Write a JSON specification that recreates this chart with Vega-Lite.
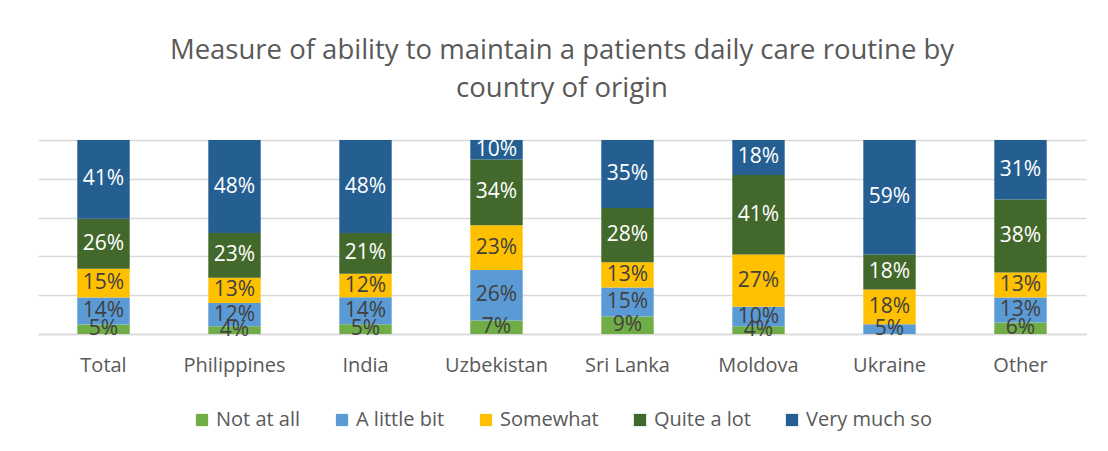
{
  "$schema": "https://vega.github.io/schema/vega-lite/v6.json",
  "width": 1048,
  "height": 194,
  "autosize": {"type": "none"},
  "padding": {"left": 38, "top": 140, "right": 22, "bottom": 117},
  "background": "white",
  "title": {
    "text": ["Measure of ability to maintain a patients daily care routine by", "country of origin"],
    "font": "Open Sans",
    "fontSize": 27.5,
    "fontWeight": "normal",
    "color": "#595959",
    "lineHeight": 38,
    "anchor": "middle",
    "offset": 36
  },
  "data": {
    "values": [
      {"country": "Total", "series": "Not at all", "rank": 1, "v": 0.05},
      {"country": "Total", "series": "A little bit", "rank": 2, "v": 0.14},
      {"country": "Total", "series": "Somewhat", "rank": 3, "v": 0.15},
      {"country": "Total", "series": "Quite a lot", "rank": 4, "v": 0.26},
      {"country": "Total", "series": "Very much so", "rank": 5, "v": 0.41},
      {"country": "Philippines", "series": "Not at all", "rank": 1, "v": 0.04},
      {"country": "Philippines", "series": "A little bit", "rank": 2, "v": 0.12},
      {"country": "Philippines", "series": "Somewhat", "rank": 3, "v": 0.13},
      {"country": "Philippines", "series": "Quite a lot", "rank": 4, "v": 0.23},
      {"country": "Philippines", "series": "Very much so", "rank": 5, "v": 0.48},
      {"country": "India", "series": "Not at all", "rank": 1, "v": 0.05},
      {"country": "India", "series": "A little bit", "rank": 2, "v": 0.14},
      {"country": "India", "series": "Somewhat", "rank": 3, "v": 0.12},
      {"country": "India", "series": "Quite a lot", "rank": 4, "v": 0.21},
      {"country": "India", "series": "Very much so", "rank": 5, "v": 0.48},
      {"country": "Uzbekistan", "series": "Not at all", "rank": 1, "v": 0.07},
      {"country": "Uzbekistan", "series": "A little bit", "rank": 2, "v": 0.26},
      {"country": "Uzbekistan", "series": "Somewhat", "rank": 3, "v": 0.23},
      {"country": "Uzbekistan", "series": "Quite a lot", "rank": 4, "v": 0.34},
      {"country": "Uzbekistan", "series": "Very much so", "rank": 5, "v": 0.10},
      {"country": "Sri Lanka", "series": "Not at all", "rank": 1, "v": 0.09},
      {"country": "Sri Lanka", "series": "A little bit", "rank": 2, "v": 0.15},
      {"country": "Sri Lanka", "series": "Somewhat", "rank": 3, "v": 0.13},
      {"country": "Sri Lanka", "series": "Quite a lot", "rank": 4, "v": 0.28},
      {"country": "Sri Lanka", "series": "Very much so", "rank": 5, "v": 0.35},
      {"country": "Moldova", "series": "Not at all", "rank": 1, "v": 0.04},
      {"country": "Moldova", "series": "A little bit", "rank": 2, "v": 0.10},
      {"country": "Moldova", "series": "Somewhat", "rank": 3, "v": 0.27},
      {"country": "Moldova", "series": "Quite a lot", "rank": 4, "v": 0.41},
      {"country": "Moldova", "series": "Very much so", "rank": 5, "v": 0.18},
      {"country": "Ukraine", "series": "A little bit", "rank": 2, "v": 0.05},
      {"country": "Ukraine", "series": "Somewhat", "rank": 3, "v": 0.18},
      {"country": "Ukraine", "series": "Quite a lot", "rank": 4, "v": 0.18},
      {"country": "Ukraine", "series": "Very much so", "rank": 5, "v": 0.59},
      {"country": "Other", "series": "Not at all", "rank": 1, "v": 0.06},
      {"country": "Other", "series": "A little bit", "rank": 2, "v": 0.13},
      {"country": "Other", "series": "Somewhat", "rank": 3, "v": 0.13},
      {"country": "Other", "series": "Quite a lot", "rank": 4, "v": 0.38},
      {"country": "Other", "series": "Very much so", "rank": 5, "v": 0.31}
    ]
  },
  "transform": [
    {"stack": "v", "groupby": ["country"], "sort": [{"field": "rank", "order": "ascending"}], "offset": "normalize", "as": ["y0", "y1"]},
    {"calculate": "(datum.y0 + datum.y1) / 2", "as": "ymid"}
  ],
  "encoding": {
    "x": {
      "field": "country",
      "type": "nominal",
      "sort": null,
      "scale": {"paddingInner": 0.6, "paddingOuter": 0.3},
      "axis": {
        "title": null,
        "labelAngle": 0,
        "ticks": false,
        "domainColor": "#D9D9D9",
        "domainWidth": 1.3,
        "labelFont": "Open Sans",
        "labelFontSize": 20,
        "labelColor": "#595959",
        "labelPadding": 21
      }
    }
  },
  "layer": [
    {
      "mark": {"type": "bar"},
      "encoding": {
        "y": {
          "field": "y0",
          "type": "quantitative",
          "scale": {"domain": [0, 1], "nice": false, "zero": true},
          "axis": {
            "title": null,
            "labels": false,
            "ticks": false,
            "domain": false,
            "grid": true,
            "gridColor": "#D9D9D9",
            "gridWidth": 1.3,
            "values": [0, 0.2, 0.4, 0.6, 0.8, 1]
          }
        },
        "y2": {"field": "y1"},
        "color": {
          "field": "series",
          "type": "nominal",
          "scale": {
            "domain": ["Not at all", "A little bit", "Somewhat", "Quite a lot", "Very much so"],
            "range": ["#70AD47", "#5B9BD5", "#FFC000", "#43682B", "#255E91"]
          },
          "legend": {
            "orient": "bottom",
            "direction": "horizontal",
            "title": null,
            "symbolType": "square",
            "symbolSize": 150,
            "symbolStrokeWidth": 0,
            "labelFont": "Open Sans",
            "labelFontSize": 20,
            "labelColor": "#595959",
            "columnPadding": 31,
            "offset": 35
          }
        }
      }
    },
    {
      "mark": {"type": "text", "font": "Open Sans", "fontSize": 21, "baseline": "middle"},
      "encoding": {
        "y": {
          "field": "ymid",
          "type": "quantitative",
          "axis": {
            "title": null,
            "labels": false,
            "ticks": false,
            "domain": false,
            "grid": true,
            "gridColor": "#D9D9D9",
            "gridWidth": 1.3,
            "values": [0, 0.2, 0.4, 0.6, 0.8, 1]
          }
        },
        "text": {"field": "v", "type": "quantitative", "format": ".0%"},
        "color": {"condition": {"test": "datum.rank >= 4", "value": "#FFFFFF"}, "value": "#404040"}
      }
    }
  ],
  "config": {
    "view": {"stroke": null},
    "legend": {"layout": {"bottom": {"anchor": "middle"}}}
  }
}
